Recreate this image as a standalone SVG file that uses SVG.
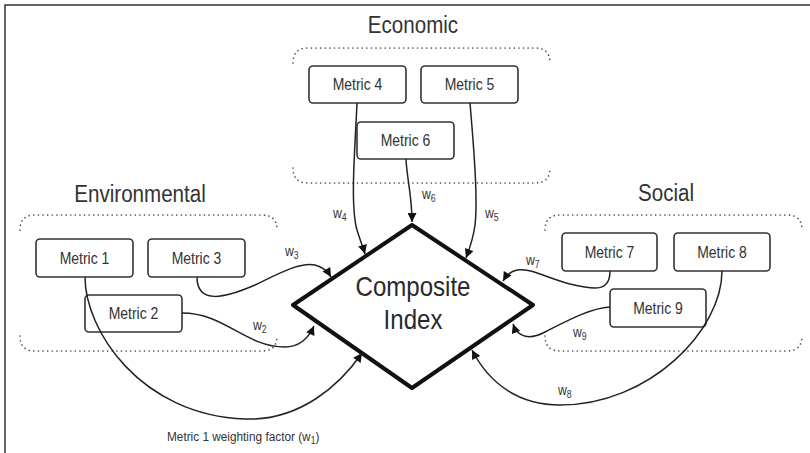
<svg xmlns="http://www.w3.org/2000/svg" width="810" height="453" viewBox="0 0 810 453">
<defs>
<style>
.t{font-family:"Liberation Sans",Arial,sans-serif;fill:#333}
.h{font-size:23.5px;text-anchor:middle}
.m{font-size:16px;text-anchor:middle}
.ci{font-size:27.5px;text-anchor:middle;fill:#2a2a2a}
.w{font-size:14px}
.sub{font-size:10px}
.box{fill:#fff;stroke:#333;stroke-width:1.6}
.grp{fill:none;stroke:#555;stroke-width:1.7;stroke-dasharray:0.01 4.6;stroke-linecap:round}
.conn{fill:none;stroke:#222;stroke-width:1.5;marker-end:url(#arr)}
.frame{fill:none;stroke:#333;stroke-width:1.5}
</style>
<marker id="arr" viewBox="0 0 10 10" refX="10" refY="5" markerWidth="11" markerHeight="9" markerUnits="userSpaceOnUse" orient="auto">
<path d="M0,0 L10,5 L0,10 z" fill="#111"/>
</marker>
</defs>
<rect width="810" height="453" fill="#fff"/>
<path class="frame" d="M5,453 V5 H810"/>

<g id="group-environmental">
<path class="grp" d="M20,230 C20,220 25,215 35,215 H262 C272,215 277,220 277,230"/>
<path class="grp" d="M20,336 C20,346 25,351 35,351 H262 C272,351 277,346 277,336"/>
<text class="t h" transform="translate(140,202) scale(.875,1)">Environmental</text>
</g>
<g id="group-economic">
<path class="grp" d="M293,63 C293,53 298,48 308,48 H535 C545,48 550,53 550,63"/>
<path class="grp" d="M293,168 C293,178 298,183 308,183 H535 C545,183 550,178 550,168"/>
<text class="t h" transform="translate(413,33) scale(.875,1)">Economic</text>
</g>
<g id="group-social">
<path class="grp" d="M545,230 C545,220 550,215 560,215 H787 C797,215 802,220 802,230"/>
<path class="grp" d="M545,336 C545,346 550,351 560,351 H787 C797,351 802,346 802,336"/>
<text class="t h" transform="translate(666,201) scale(.875,1)">Social</text>
</g>

<g id="metric1"><rect class="box" x="36" y="239" width="97" height="38" rx="4"/><text class="t m" transform="translate(84.5,264) scale(.875,1)">Metric 1</text></g>
<g id="metric2"><rect class="box" x="85" y="295" width="97" height="37" rx="4"/><text class="t m" transform="translate(133.5,319) scale(.875,1)">Metric 2</text></g>
<g id="metric3"><rect class="box" x="148" y="239" width="97" height="38" rx="4"/><text class="t m" transform="translate(196.5,264) scale(.875,1)">Metric 3</text></g>
<g id="metric4"><rect class="box" x="309" y="66" width="97" height="37" rx="4"/><text class="t m" transform="translate(357.5,90) scale(.875,1)">Metric 4</text></g>
<g id="metric5"><rect class="box" x="421" y="66" width="97" height="37" rx="4"/><text class="t m" transform="translate(469.5,90) scale(.875,1)">Metric 5</text></g>
<g id="metric6"><rect class="box" x="357" y="122" width="97" height="37" rx="4"/><text class="t m" transform="translate(405.5,146) scale(.875,1)">Metric 6</text></g>
<g id="metric7"><rect class="box" x="562" y="233" width="95" height="38" rx="4"/><text class="t m" transform="translate(609.5,258) scale(.875,1)">Metric 7</text></g>
<g id="metric8"><rect class="box" x="674" y="233" width="96" height="38" rx="4"/><text class="t m" transform="translate(722,258) scale(.875,1)">Metric 8</text></g>
<g id="metric9"><rect class="box" x="610" y="289" width="96" height="38" rx="4"/><text class="t m" transform="translate(658,314) scale(.875,1)">Metric 9</text></g>

<g id="composite-index">
<polygon points="412,225 533,305 412,388 293,305" fill="#fff" stroke="#111" stroke-width="4" stroke-linejoin="round"/>
<text class="t ci" transform="translate(413,296) scale(.875,1)">Composite</text>
<text class="t ci" transform="translate(413,329) scale(.875,1)">Index</text>
</g>

<g id="connectors">
<path class="conn" d="M85,277 C85,330 140,415 245,419 C300,421 340,385 362,353"/>
<path class="conn" d="M182,313 C225,313 245,347 285,347 C300,347 309,337 314,326"/>
<path class="conn" d="M197,277 C197,305 225,298 255,285 C280,273 300,262 315,265 C323,267 328,272 331,277"/>
<path class="conn" d="M357,103 C355,150 350,205 357,230 C360,240 363,247 365,254"/>
<path class="conn" d="M470,103 C474,150 478,200 475,225 C473,240 469,250 466,258"/>
<path class="conn" d="M406,159 C407,180 412,195 412,222"/>
<path class="conn" d="M610,271 C610,292 595,290 570,284 C545,277 530,268 517,270 C511,271 506,276 503,281"/>
<path class="conn" d="M610,307 C590,308 565,322 545,332 C530,340 518,338 513,324"/>
<path class="conn" d="M722,271 C722,330 650,405 560,405 C520,405 490,385 472,350"/>

<text class="t w" transform="translate(253,330) scale(.875,1)">w<tspan class="sub" dy="3">2</tspan></text>
<text class="t w" transform="translate(285,256) scale(.875,1)">w<tspan class="sub" dy="3">3</tspan></text>
<text class="t w" transform="translate(333,218) scale(.875,1)">w<tspan class="sub" dy="3">4</tspan></text>
<text class="t w" transform="translate(485,218) scale(.875,1)">w<tspan class="sub" dy="3">5</tspan></text>
<text class="t w" transform="translate(422,199) scale(.875,1)">w<tspan class="sub" dy="3">6</tspan></text>
<text class="t w" transform="translate(526,265) scale(.875,1)">w<tspan class="sub" dy="3">7</tspan></text>
<text class="t w" transform="translate(558,395) scale(.875,1)">w<tspan class="sub" dy="3">8</tspan></text>
<text class="t w" transform="translate(573,337) scale(.875,1)">w<tspan class="sub" dy="3">9</tspan></text>
<text class="t" style="font-size:13.5px" transform="translate(167,441) scale(.875,1)">Metric 1 weighting factor (w<tspan class="sub" dy="3">1</tspan><tspan dy="-3">)</tspan></text>
</g>
</svg>
